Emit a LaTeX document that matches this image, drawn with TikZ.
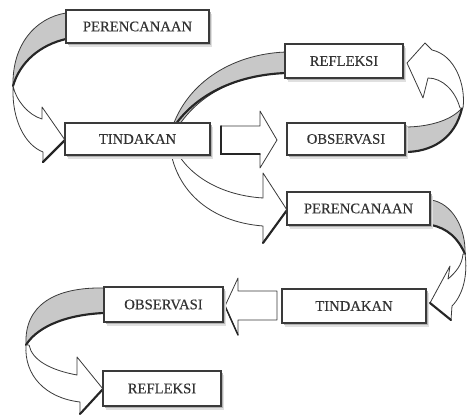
\documentclass[tikz,border=0pt]{standalone}
\usepackage{fontspec}
\setmainfont{Liberation Serif}
\newfontfamily\stagefont[FakeBold=0.35]{Liberation Serif}
\usetikzlibrary{shadows}
\definecolor{edge}{HTML}{3A3A3A}
\definecolor{ribbon}{HTML}{C8C8C8}
\tikzset{
  stage/.style={draw=edge, line width=1pt, fill=white, inner sep=0pt,
    font=\stagefont\fontsize{11}{13}\selectfont, text=black!80,
    general shadow={fill=black!12, shadow xshift=2.2pt, shadow yshift=-3pt},
    general shadow={fill=black!30, shadow xshift=1.2pt, shadow yshift=-1.5pt}},
  back/.style={fill=ribbon, draw=edge, line width=0.6pt, line join=round},
  front/.style={fill=white, draw=edge, line width=0.6pt, line join=round},
  heavy/.style={draw=black!85, line width=1.6pt, line cap=round},
}
\begin{document}
\begin{tikzpicture}[x=0.75pt,y=-0.75pt]
\useasboundingbox (0,0) rectangle (467,416);

% ---- curved ribbon arrows (behind the boxes) ----
% A1: PERENCANAAN -> TINDAKAN
\path[back] (66,13) .. controls (35,18) and (12,45) .. (13,86)
  .. controls (20,62) and (40,45) .. (66,39) -- cycle;
\draw[heavy] (13,86) .. controls (20,62) and (40,45) .. (66,39);
\path[front] (13,86) .. controls (16,100) and (28,115) .. (42,119)
  -- (42,107) -- (65,140) -- (43,162) -- (43,152)
  .. controls (25,145) and (12,120) .. (13,88) -- cycle;
\draw[heavy] (65,140) -- (43,162);

% A2/A3: REFLEKSI -> (behind TINDAKAN) -> PERENCANAAN
\path[back] (286,52) .. controls (230,54) and (183,85) .. (170,135)
  -- (173,135) .. controls (195,95) and (235,75) .. (286,73) -- cycle;
\draw[heavy] (286,73) .. controls (235,75) and (195,95) .. (173,128);
\path[front] (171,138) .. controls (180,170) and (215,195) .. (263,198)
  -- (263,173) -- (287,210) -- (263,243) -- (263,226)
  .. controls (210,222) and (172,190) .. (169,138) -- cycle;
\draw[heavy] (287,210) -- (263,243);

% A4: OBSERVASI -> REFLEKSI
\path[back] (405,127) .. controls (425,127) and (450,122) .. (462,108)
  .. controls (455,140) and (430,152) .. (405,152) -- cycle;
\draw[heavy] (405,152) .. controls (430,152) and (455,140) .. (462,108);
\path[front] (463,108) .. controls (466,85) and (455,55) .. (432,50)
  -- (425,43) -- (407,63) -- (423,98) -- (428,78)
  .. controls (442,78) and (455,90) .. (460,108) -- cycle;

% A5: PERENCANAAN -> TINDAKAN
\path[back] (431,200) .. controls (452,203) and (466,228) .. (465,254)
  .. controls (458,238) and (447,228) .. (431,225) -- cycle;
\draw[heavy] (465,254) .. controls (458,238) and (447,228) .. (431,225);
\path[front] (465,254) .. controls (468,275) and (463,295) .. (452,306)
  -- (451,320) -- (430,303) -- (450,266) -- (448,279)
  .. controls (456,272) and (462,265) .. (463,254) -- cycle;
\draw[heavy] (430,303) -- (451,320);

% A6: OBSERVASI -> REFLEKSI
\path[back] (104,288) .. controls (55,287) and (24,305) .. (26,345)
  .. controls (35,330) and (60,315) .. (104,313) -- cycle;
\draw[heavy] (26,345) .. controls (35,330) and (60,315) .. (104,313);
\path[front] (26,345) .. controls (24,375) and (45,398) .. (80,402)
  -- (80,414) -- (103,389) -- (77,357) -- (77,375)
  .. controls (50,370) and (32,360) .. (29,345) -- cycle;
\draw[heavy] (103,389) -- (80,414);

% ---- straight block arrows ----
\path[front] (221,126) -- (260,126) -- (260,111) -- (277,140) -- (260,168)
  -- (260,154) -- (221,154) -- cycle;
\draw[heavy, line width=1.1pt] (221,126) -- (221,154) -- (260,154);
\path[front] (277,291) -- (238,291) -- (238,278) -- (225,306) -- (238,335)
  -- (238,320) -- (277,320) -- cycle;
\draw[heavy, line width=1.1pt] (225,306) -- (238,335);

% ---- boxes ----
\node[stage, minimum width={143*0.75pt}, minimum height={33*0.75pt}] (P1) at (137.5,26.5) {PERENCANAAN};
\node[stage, minimum width={145*0.75pt}, minimum height={32*0.75pt}] (T1) at (137.5,139) {TINDAKAN};
\node[stage, minimum width={118*0.75pt}, minimum height={34*0.75pt}] (R1) at (344,61) {REFLEKSI};
\node[stage, minimum width={118*0.75pt}, minimum height={32*0.75pt}] (O1) at (346,139) {OBSERVASI};
\node[stage, minimum width={143*0.75pt}, minimum height={33*0.75pt}] (P2) at (358.5,208.5) {PERENCANAAN};
\node[stage, minimum width={144*0.75pt}, minimum height={34*0.75pt}] (T2) at (354,306) {TINDAKAN};
\node[stage, minimum width={119*0.75pt}, minimum height={35*0.75pt}] (O2) at (163.5,304.5) {OBSERVASI};
\node[stage, minimum width={118*0.75pt}, minimum height={35*0.75pt}] (R2) at (162,388.5) {REFLEKSI};
\end{tikzpicture}
\end{document}
